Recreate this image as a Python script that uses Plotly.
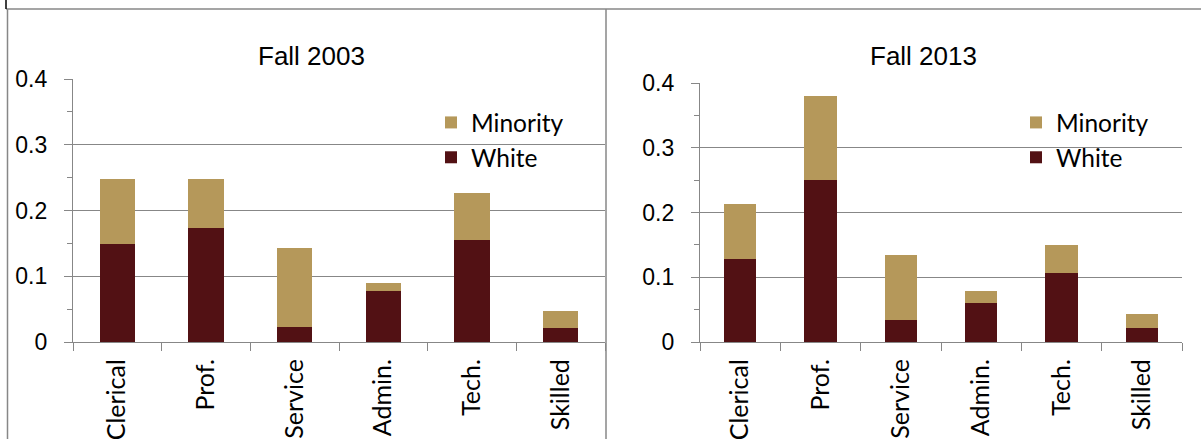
import plotly.graph_objects as go

categories = ["Clerical", "Prof.", "Service", "Admin.", "Tech.", "Skilled"]
white_2003 = [0.149, 0.174, 0.023, 0.077, 0.155, 0.022]
minority_2003 = [0.099, 0.074, 0.120, 0.013, 0.071, 0.025]
white_2013 = [0.128, 0.250, 0.034, 0.060, 0.107, 0.022]
minority_2013 = [0.085, 0.130, 0.101, 0.019, 0.043, 0.022]
panel_titles = ["Fall 2003", "Fall 2013"]

W, H = 1201, 439
WHITE_C = "#521114"
MIN_C = "#B5985A"
GRID = "#878787"

def px_x(p):
    return p / W

def px_y(p):
    return 1 - p / H

fig = go.Figure()
fig.add_trace(go.Bar(x=categories, y=white_2003, name="White", marker=dict(color=WHITE_C, line=dict(width=0)),
                     xaxis="x", yaxis="y", legend="legend"))
fig.add_trace(go.Bar(x=categories, y=minority_2003, name="Minority", marker=dict(color=MIN_C, line=dict(width=0)),
                     xaxis="x", yaxis="y", legend="legend"))
fig.add_trace(go.Bar(x=categories, y=white_2013, name="White", marker=dict(color=WHITE_C, line=dict(width=0)),
                     xaxis="x2", yaxis="y2", legend="legend2"))
fig.add_trace(go.Bar(x=categories, y=minority_2013, name="Minority", marker=dict(color=MIN_C, line=dict(width=0)),
                     xaxis="x2", yaxis="y2", legend="legend2"))

xcommon = dict(type="category", showline=True, linecolor=GRID, linewidth=1.3, ticks="outside",
               tickson="boundaries", ticklen=8, tickwidth=1.3, tickcolor=GRID, tickangle=-90,
               showgrid=False, ticklabelstandoff=6, automargin=False,
               tickfont=dict(family="Lato", size=25, color="black"))
ycommon = dict(range=[0, 0.4], dtick=0.1, showline=True, linecolor=GRID, linewidth=1.3,
               showgrid=True, gridcolor=GRID, gridwidth=1.3, ticks="outside", ticklen=8,
               tickwidth=1.3, tickcolor=GRID, zeroline=False, ticklabelstandoff=12, automargin=False,
               tickfont=dict(family="Liberation Sans", size=23, color="black"),
               minor=dict(dtick=0.05, ticks="outside", ticklen=5, tickwidth=1.3, tickcolor=GRID, showgrid=False))

legend_font = dict(family="Lato", size=24.5, color="black")

fig.update_layout(
    width=W, height=H, margin=dict(l=0, r=0, t=0, b=0, pad=0, autoexpand=False),
    paper_bgcolor="white", plot_bgcolor="white",
    barmode="stack", bargap=0.6, showlegend=True,
    xaxis=dict(domain=[px_x(73), px_x(605)], anchor="y", **xcommon),
    yaxis=dict(domain=[px_y(342), px_y(79)], anchor="x", **ycommon),
    xaxis2=dict(domain=[px_x(700), px_x(1182)], anchor="y2", **xcommon),
    yaxis2=dict(domain=[px_y(342), px_y(83)], anchor="x2", **ycommon),
    legend=dict(x=px_x(431), y=px_y(100), xanchor="left", yanchor="top", traceorder="reversed",
                bgcolor="rgba(0,0,0,0)", font=legend_font),
    legend2=dict(x=px_x(1016), y=px_y(100), xanchor="left", yanchor="top", traceorder="reversed",
                 bgcolor="rgba(0,0,0,0)", font=legend_font),
    annotations=[
        dict(text=panel_titles[0], x=px_x(311), y=px_y(56), xref="paper", yref="paper",
             xanchor="center", yanchor="middle", showarrow=False,
             font=dict(family="Liberation Sans", size=26, color="black")),
        dict(text=panel_titles[1], x=px_x(924), y=px_y(56), xref="paper", yref="paper",
             xanchor="center", yanchor="middle", showarrow=False,
             font=dict(family="Liberation Sans", size=26, color="black")),
    ],
    shapes=[
        dict(type="line", xref="paper", yref="paper", x0=px_x(6), x1=1, y0=px_y(9), y1=px_y(9),
             line=dict(color=GRID, width=1.5)),
        dict(type="line", xref="paper", yref="paper", x0=px_x(7.5), x1=px_x(7.5), y0=px_y(9), y1=0,
             line=dict(color=GRID, width=1.5)),
        dict(type="line", xref="paper", yref="paper", x0=px_x(606), x1=px_x(606), y0=px_y(9), y1=0,
             line=dict(color=GRID, width=1.5)),
        dict(type="line", xref="paper", yref="paper", x0=px_x(6), x1=px_x(6), y0=1, y1=px_y(9),
             line=dict(color="black", width=1.5)),
    ],
)

fig.write_html("out.html", config={"displayModeBar": False},
               post_script="document.body.style.margin='0';document.body.style.overflow='hidden';")
